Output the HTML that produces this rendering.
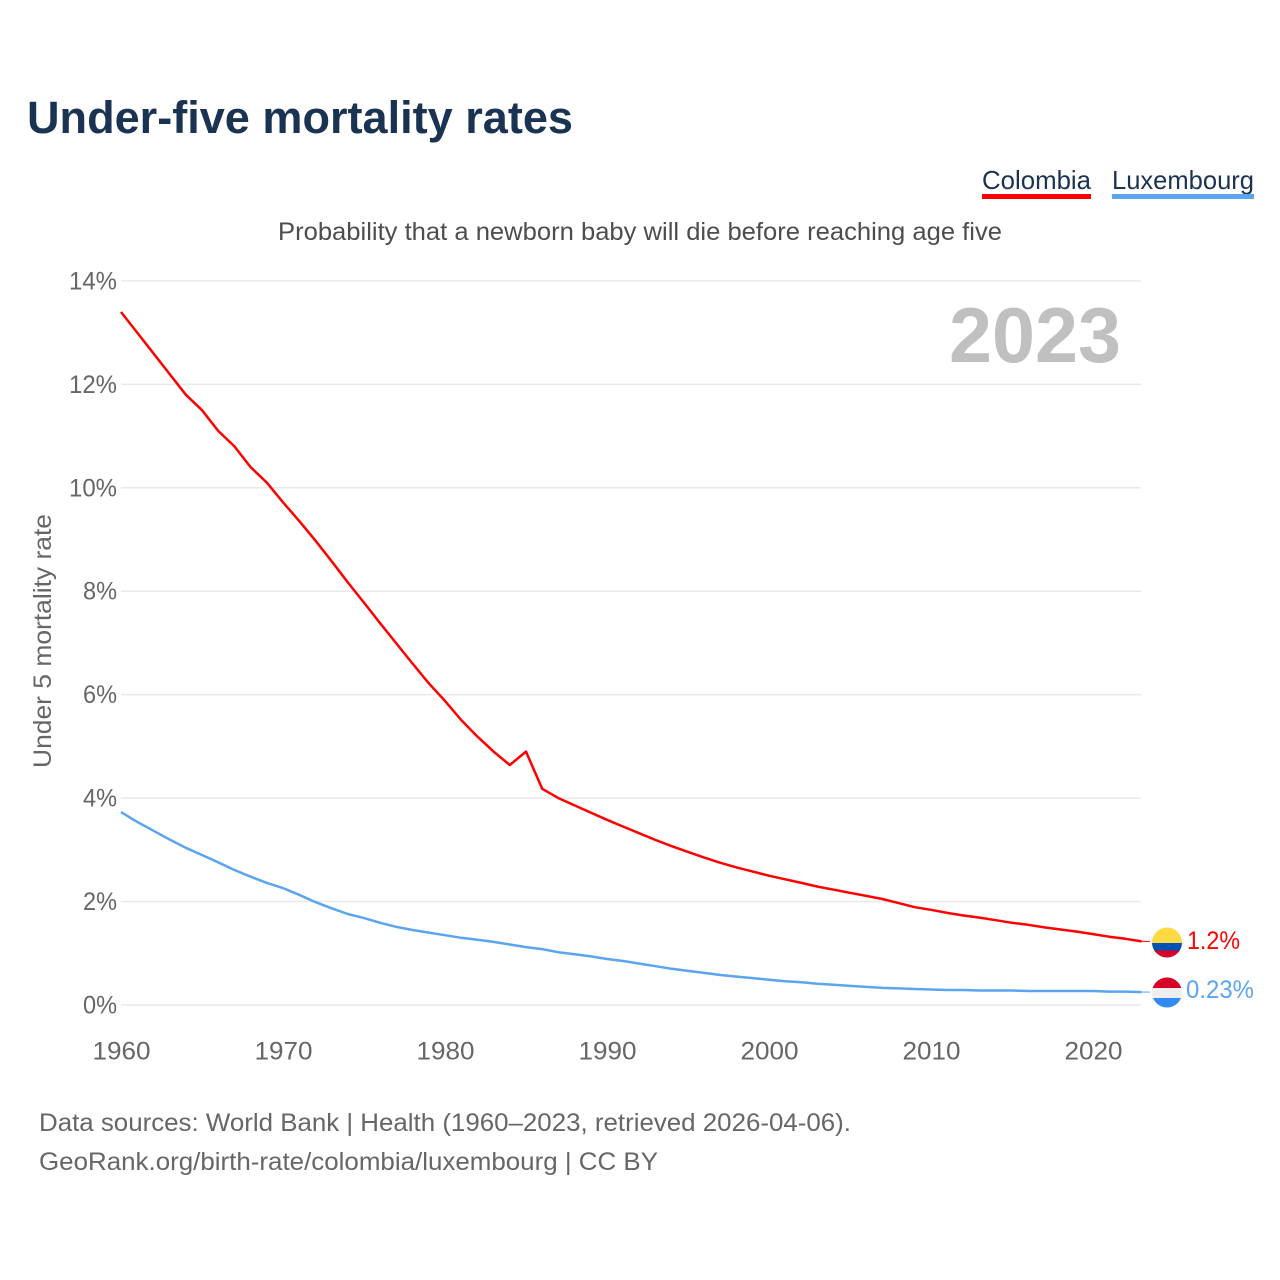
<!DOCTYPE html>
<html lang="en">
<head>
<meta charset="utf-8">
<title>Under-five mortality rates</title>
<style>
html,body{margin:0;padding:0;background:#fff;width:1280px;height:1280px;overflow:hidden}
svg{display:block}
text{font-family:"Liberation Sans",sans-serif}
</style>
</head>
<body>
<svg id="chart" width="1280" height="1280" viewBox="0 0 1280 1280" xmlns="http://www.w3.org/2000/svg">
  <defs>
    <clipPath id="clip-co"><circle cx="1167" cy="942.500" r="15"/></clipPath>
    <clipPath id="clip-lu"><circle cx="1167" cy="992.500" r="15"/></clipPath>
  </defs>
  <rect width="1280" height="1280" fill="#fff"/>
  <text x="27" y="133" font-size="45" font-weight="700" fill="#1a3353" textLength="546" lengthAdjust="spacingAndGlyphs">Under-five mortality rates</text>

  <g>
    <g>
      <text x="982" y="189" font-size="26" fill="#1a3353" textLength="109" lengthAdjust="spacingAndGlyphs">Colombia</text>
      <rect x="982" y="194" width="109" height="5" fill="#ff0000"/>
    </g>
    <g>
      <text x="1112" y="189" font-size="26" fill="#1a3353" textLength="142" lengthAdjust="spacingAndGlyphs">Luxembourg</text>
      <rect x="1112" y="194" width="142" height="5" fill="#5ba4f0"/>
    </g>
  </g>

  <text x="278" y="240" font-size="25" fill="#4d4d4d" textLength="724" lengthAdjust="spacingAndGlyphs">Probability that a newborn baby will die before reaching age five</text>
  <text transform="translate(51,768) rotate(-90)" font-size="25" fill="#666" textLength="254" lengthAdjust="spacingAndGlyphs">Under 5 mortality rate</text>

  <g id="grid"></g>
  <g id="yticks"></g>
  <g id="xticks"></g>

  <text x="949" y="362" font-size="78" font-weight="700" fill="#c0c0c0" textLength="172" lengthAdjust="spacingAndGlyphs">2023</text>

  <g id="series"></g>

  <g>
    <g clip-path="url(#clip-co)">
      <rect x="1152" y="927" width="30" height="16" fill="#ffda44"/>
      <rect x="1152" y="943" width="30" height="8" fill="#0052b4"/>
      <rect x="1152" y="950.500" width="30" height="8" fill="#d80027"/>
    </g>
    <text x="1187" y="949" font-size="25" fill="#ff0000" textLength="53" lengthAdjust="spacingAndGlyphs">1.2%</text>
  </g>
  <g>
    <g clip-path="url(#clip-lu)">
      <rect x="1152" y="977" width="30" height="11" fill="#d80027"/>
      <rect x="1152" y="988" width="30" height="10" fill="#eeeeee"/>
      <rect x="1152" y="998" width="30" height="10" fill="#338af3"/>
    </g>
    <text x="1186" y="998" font-size="25" fill="#5ba4f0" textLength="68" lengthAdjust="spacingAndGlyphs">0.23%</text>
  </g>

  <text x="39" y="1131" font-size="25" fill="#666" textLength="812" lengthAdjust="spacingAndGlyphs">Data sources: World Bank | Health (1960–2023, retrieved 2026-04-06).</text>
  <text x="39" y="1170" font-size="25" fill="#666" textLength="619" lengthAdjust="spacingAndGlyphs">GeoRank.org/birth-rate/colombia/luxembourg | CC BY</text>
</svg>
<script>
const startYear = 1960;
const yTickValues = [0, 2, 4, 6, 8, 10, 12, 14];
const xTickYears = [1960, 1970, 1980, 1990, 2000, 2010, 2020];
const colombiaValues = [13.4,13.0,12.6,12.2,11.8,11.5,11.1,10.8,10.4,10.1,9.72,9.36,8.98,8.58,8.17,7.78,7.38,6.99,6.6,6.22,5.88,5.51,5.19,4.9,4.64,4.9,4.18,4.0,3.86,3.72,3.58,3.45,3.32,3.19,3.07,2.96,2.85,2.75,2.66,2.58,2.5,2.43,2.36,2.29,2.23,2.17,2.11,2.05,1.97,1.89,1.84,1.78,1.73,1.69,1.64,1.59,1.55,1.5,1.46,1.42,1.37,1.32,1.28,1.23];
const luxembourgValues = [3.73,3.54,3.37,3.2,3.04,2.9,2.76,2.61,2.48,2.36,2.26,2.13,1.99,1.87,1.76,1.68,1.59,1.51,1.45,1.4,1.35,1.3,1.26,1.22,1.17,1.12,1.08,1.02,0.98,0.94,0.89,0.85,0.8,0.75,0.7,0.66,0.62,0.58,0.55,0.52,0.49,0.46,0.44,0.41,0.39,0.37,0.35,0.33,0.32,0.31,0.3,0.29,0.29,0.28,0.28,0.28,0.27,0.27,0.27,0.27,0.27,0.26,0.26,0.25];

const NS = 'http://www.w3.org/2000/svg';
function xScale(year) { return 121 + (year - 1960) * 16.2; }
function yScale(v) { return 1005 - v * 51.72; }

function make(tag, attrs, parent, txt) {
  const el = document.createElementNS(NS, tag);
  for (const k in attrs) el.setAttribute(k, attrs[k]);
  if (txt !== undefined) el.textContent = txt;
  parent.appendChild(el);
  return el;
}

const grid = document.getElementById('grid');
const yticks = document.getElementById('yticks');
const xticks = document.getElementById('xticks');
const series = document.getElementById('series');

yTickValues.forEach(function (v) {
  const line = make('line', { x1: 121, x2: 1141, y1: yScale(v), y2: yScale(v), stroke: '#e9e9e9', 'stroke-width': 1.500 }, grid);
  
  
  const txt = v + '%';
  const label = make('text', { x: 117, y: yScale(v) + 8.500, 'font-size': 25, fill: '#666', 'text-anchor': 'end', textLength: txt.length * 14 + 6, lengthAdjust: 'spacingAndGlyphs' }, yticks, txt);
  
  
});

xTickYears.forEach(function (y) {
  const label = make('text', { x: xScale(y) + 0.500, y: 1059.500, 'font-size': 25, fill: '#666', 'text-anchor': 'middle', textLength: 58, lengthAdjust: 'spacingAndGlyphs' }, xticks, String(y));
  
  
});

function drawSeries(values, colour, name) {
  const pts = values.map(function (v, i) { return xScale(startYear + i).toFixed(1) + ',' + yScale(v).toFixed(1); });
  const path = make('polyline', { points: pts.join(' '), fill: 'none', stroke: colour, 'stroke-width': 2.500, 'stroke-linejoin': 'round' }, series);
  
  
  const last = values[values.length - 1];
  const lx = xScale(startYear + values.length - 1);
  const lead = make('line', { x1: lx, x2: 1150, y1: yScale(last), y2: yScale(last), stroke: colour, 'stroke-width': 1 }, series);
  
  
}
drawSeries(colombiaValues, '#ff0000', 'colombia-line');
drawSeries(luxembourgValues, '#5ba4f0', 'luxembourg-line');
</script>
</body>
</html>
